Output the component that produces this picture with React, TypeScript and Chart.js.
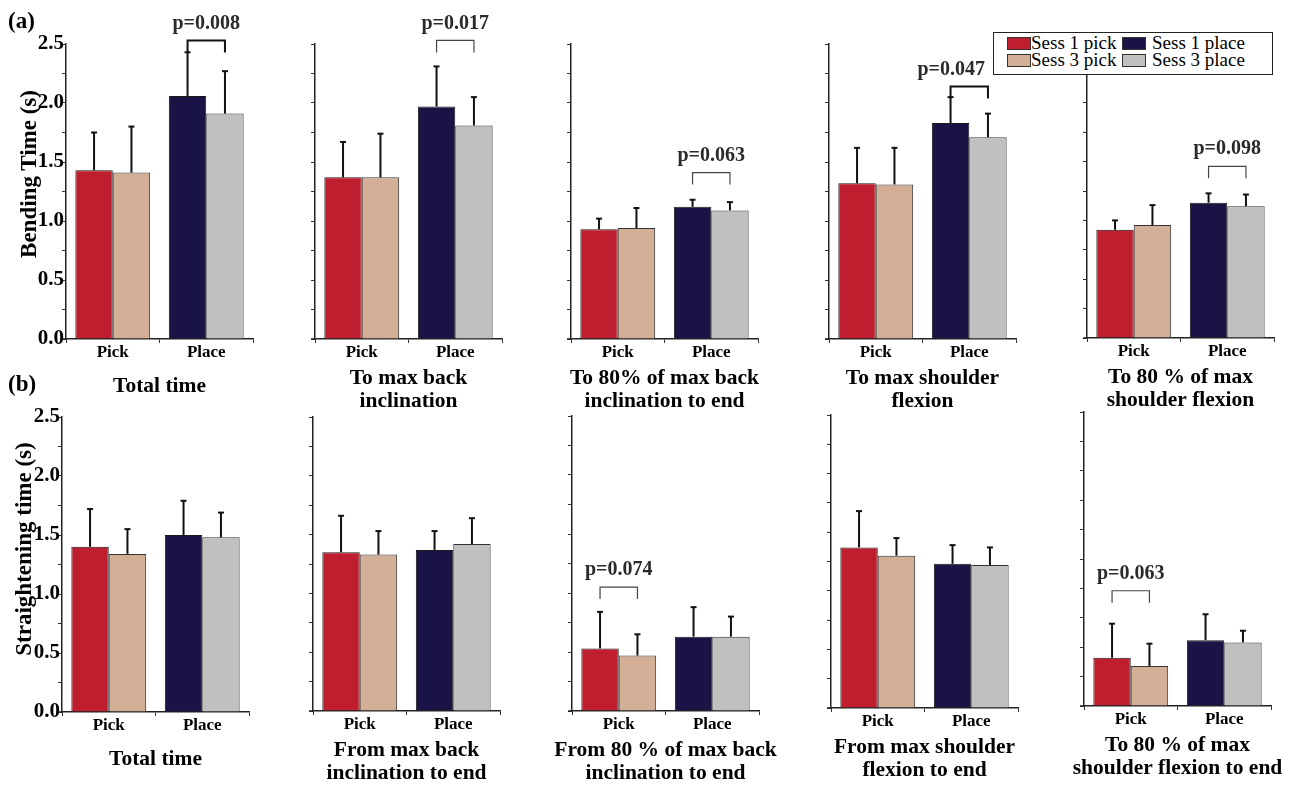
import React, { useEffect, useRef } from "react";
import { Chart, registerables } from "chart.js";

Chart.register(...registerables);

const FONT = "'Liberation Serif', 'Times New Roman', serif";

// ---------- data ----------
const categories = ["Pick", "Place"];
const seriesLabels = ["Sess 1 pick", "Sess 1 place", "Sess 3 pick", "Sess 3 place"];

const bendingTitles = [
  ["Total time"],
  ["To max back", "inclination"],
  ["To 80% of max back", "inclination to end"],
  ["To max shoulder", "flexion"],
  ["To 80 % of max", "shoulder flexion"],
];
const straighteningTitles = [
  ["Total time"],
  ["From max back", "inclination to end"],
  ["From 80 % of max back", "inclination to end"],
  ["From max shoulder", "flexion to end"],
  ["To 80 % of max", "shoulder flexion to end"],
];

// [pick, place] per panel
const bendSess1Mean = [[1.43, 2.06], [1.37, 1.97], [0.93, 1.12], [1.32, 1.83], [0.92, 1.15]];
const bendSess3Mean = [[1.41, 1.91], [1.37, 1.81], [0.94, 1.09], [1.31, 1.71], [0.96, 1.12]];
const bendSess1SD = [[0.32, 0.37], [0.30, 0.34], [0.09, 0.06], [0.30, 0.22], [0.08, 0.08]];
const bendSess3SD = [[0.39, 0.36], [0.37, 0.24], [0.17, 0.07], [0.31, 0.20], [0.17, 0.10]];

const straightSess1Mean = [[1.40, 1.50], [1.35, 1.37], [0.53, 0.63], [1.37, 1.23], [0.41, 0.56]];
const straightSess3Mean = [[1.34, 1.48], [1.33, 1.42], [0.47, 0.63], [1.30, 1.22], [0.34, 0.54]];
const straightSess1SD = [[0.32, 0.29], [0.31, 0.16], [0.31, 0.25], [0.31, 0.16], [0.29, 0.22]];
const straightSess3SD = [[0.21, 0.21], [0.20, 0.22], [0.18, 0.17], [0.15, 0.15], [0.19, 0.10]];

// significance brackets: group index (0 pick, 1 place), bracket level, label, significant?
const bendSig = [
  { group: 1, level: 2.53, p: "p=0.008", strong: true, shift: 0 },
  { group: 1, level: 2.53, p: "p=0.017", strong: false, shift: 0 },
  { group: 1, level: 1.41, p: "p=0.063", strong: false, shift: 0 },
  { group: 1, level: 2.14, p: "p=0.047", strong: true, shift: -18 },
  { group: 1, level: 1.46, p: "p=0.098", strong: false, shift: 0 },
];
const straightSig = [
  null,
  null,
  { group: 0, level: 1.05, p: "p=0.074", strong: false, shift: 0 },
  null,
  { group: 0, level: 0.98, p: "p=0.063", strong: false, shift: 0 },
];

const yTicksMax = 2.5;
const yTickStep = 0.25;

const RED = "#BE1E2D";
const TAN = "#D4AF97";
const NAVY = "#1A1446";
const GRAY = "#C0C0C0";

// ---------- layout (positions only) ----------
const YW = 60;
const RP = 25;
const PLOT_W = 187;
const CANVAS_W = YW + PLOT_W + RP;

const topAxisX = [66, 315, 571, 829, 1087];
const topPlotTop = [44, 44, 44, 44, 44];
const topPlotBottom = [339, 339, 339, 339, 338];
const botAxisX = [62, 313, 572, 831, 1084];
const botPlotTop = [417, 417, 416, 415, 412];
const botPlotBottom = [712, 711, 711, 708, 706];

const overlayPlugin = {
  id: "overlay",
  afterDatasetsDraw(chart: any, _args: any, opts: any) {
    const { ctx, chartArea } = chart;
    const y = chart.scales.y;
    ctx.save();
    // extend x axis line slightly left of y axis
    ctx.strokeStyle = "#222";
    ctx.lineWidth = 1.5;
    ctx.beginPath();
    ctx.moveTo(chartArea.left - 4, chartArea.bottom);
    ctx.lineTo(chartArea.left, chartArea.bottom);
    ctx.stroke();
    // error bars
    ctx.strokeStyle = "#111";
    ctx.lineWidth = 2;
    for (let d = 0; d < 2; d++) {
      const meta = chart.getDatasetMeta(d);
      const sd = opts.sd[d];
      meta.data.forEach((el: any, j: number) => {
        const v = chart.data.datasets[d].data[j];
        const yTop = y.getPixelForValue(v + sd[j]);
        ctx.beginPath();
        ctx.moveTo(el.x, el.y);
        ctx.lineTo(el.x, yTop);
        ctx.stroke();
        ctx.beginPath();
        ctx.moveTo(el.x - 3, yTop);
        ctx.lineTo(el.x + 3, yTop);
        ctx.stroke();
      });
    }
    // significance bracket
    const sig = opts.sig;
    if (sig) {
      const x1 = chart.getDatasetMeta(0).data[sig.group].x;
      const x2 = chart.getDatasetMeta(1).data[sig.group].x;
      const yb = y.getPixelForValue(sig.level);
      ctx.strokeStyle = sig.strong ? "#111" : "#444";
      ctx.lineWidth = sig.strong ? 2 : 1.2;
      ctx.beginPath();
      ctx.moveTo(x1, yb + 12);
      ctx.lineTo(x1, yb);
      ctx.lineTo(x2, yb);
      ctx.lineTo(x2, yb + 12);
      ctx.stroke();
      ctx.fillStyle = "#2a2a2a";
      ctx.font = `bold 20px ${FONT}`;
      ctx.textAlign = "center";
      ctx.textBaseline = "middle";
      ctx.fillText(sig.p, (x1 + x2) / 2 + sig.shift, yb - 17);
    }
    // panel title
    const lines: string[] = opts.title;
    ctx.fillStyle = "#000";
    ctx.font = `bold 21.5px ${FONT}`;
    ctx.textAlign = "center";
    ctx.textBaseline = "middle";
    const cx = (chartArea.left + chartArea.right) / 2;
    if (lines.length === 1) {
      ctx.fillText(lines[0], cx, chartArea.bottom + 47);
    } else {
      lines.forEach((t, i) => ctx.fillText(t, cx, chartArea.bottom + 39 + i * 23.5));
    }
    ctx.restore();
  },
};

type PanelProps = {
  left: number;
  top: number;
  height: number;
  padTop: number;
  xh: number;
  s1: number[];
  s3: number[];
  sd1: number[];
  sd3: number[];
  sig: any;
  title: string[];
  showLabels: boolean;
};

function Panel(p: PanelProps) {
  const ref = useRef<HTMLCanvasElement | null>(null);
  useEffect(() => {
    if (!ref.current) return;
    const chart = new Chart(ref.current, {
      type: "bar",
      data: {
        labels: categories,
        datasets: [
          {
            label: "Sess 1",
            data: p.s1,
            backgroundColor: [RED, NAVY],
            borderColor: "#1a1a1a",
            borderWidth: 1,
            borderSkipped: "bottom",
            barPercentage: 1,
            categoryPercentage: 0.8,
          },
          {
            label: "Sess 3",
            data: p.s3,
            backgroundColor: [TAN, GRAY],
            borderColor: "#333",
            borderWidth: 1,
            borderSkipped: "bottom",
            barPercentage: 1,
            categoryPercentage: 0.8,
          },
        ],
      },
      options: {
        responsive: false,
        animation: false,
        devicePixelRatio: 1,
        layout: { padding: { top: p.padTop, right: RP, left: 0, bottom: 0 }, autoPadding: false },
        plugins: {
          legend: { display: false },
          tooltip: { enabled: false },
          overlay: { sd: [p.sd1, p.sd3], sig: p.sig, title: p.title },
        } as any,
        scales: {
          x: {
            grid: { drawOnChartArea: false, drawTicks: true, tickLength: 4, color: "#333" },
            border: { display: true, color: "#222", width: 1.5 },
            ticks: { color: "#000", font: { family: FONT, size: 17, weight: "bold" }, padding: -1 },
            afterFit: (s: any) => {
              s.height = p.xh;
            },
          },
          y: {
            min: 0,
            max: yTicksMax,
            grid: { drawOnChartArea: false, drawTicks: true, tickLength: 4, color: "#333" },
            border: { display: true, color: "#222", width: 1.5 },
            ticks: {
              stepSize: yTickStep,
              color: "#000",
              padding: -2,
              font: { family: FONT, size: 21, weight: "bold" },
              callback: (v: any) => {
                if (!p.showLabels) return "";
                const n = Number(v);
                return Math.abs(n * 2 - Math.round(n * 2)) < 1e-6 ? n.toFixed(1) : "";
              },
            },
            afterFit: (s: any) => {
              s.width = YW;
            },
          },
        },
      },
      plugins: [overlayPlugin as any],
    });
    return () => chart.destroy();
  }, []);
  return (
    <canvas
      ref={ref}
      width={CANVAS_W}
      height={p.height}
      style={{ position: "absolute", left: p.left, top: p.top, width: CANVAS_W, height: p.height }}
    />
  );
}

const legendSwatches = [RED, NAVY, TAN, GRAY];

export default function App() {
  const panels: PanelProps[] = [];
  for (let i = 0; i < 5; i++) {
    const top = 0;
    const height = 420;
    panels.push({
      left: topAxisX[i] - YW,
      top,
      height,
      padTop: topPlotTop[i] - top,
      xh: top + height - topPlotBottom[i],
      s1: bendSess1Mean[i],
      s3: bendSess3Mean[i],
      sd1: bendSess1SD[i],
      sd3: bendSess3SD[i],
      sig: bendSig[i],
      title: bendingTitles[i],
      showLabels: i === 0,
    });
  }
  for (let i = 0; i < 5; i++) {
    const top = 380;
    const height = 405;
    panels.push({
      left: botAxisX[i] - YW,
      top,
      height,
      padTop: botPlotTop[i] - top,
      xh: top + height - botPlotBottom[i],
      s1: straightSess1Mean[i],
      s3: straightSess3Mean[i],
      sd1: straightSess1SD[i],
      sd3: straightSess3SD[i],
      sig: straightSig[i],
      title: straighteningTitles[i],
      showLabels: i === 0,
    });
  }

  const textBase: React.CSSProperties = {
    position: "absolute",
    fontFamily: FONT,
    whiteSpace: "nowrap",
    lineHeight: 1,
  };

  const legendPos = [
    { sx: 1007, tx: 1031, cy: 43 },
    { sx: 1122, tx: 1152, cy: 43 },
    { sx: 1007, tx: 1031, cy: 60 },
    { sx: 1122, tx: 1152, cy: 60 },
  ];

  return (
    <div style={{ position: "absolute", left: 0, top: 0, width: 1293, height: 785, background: "#fff", overflow: "hidden" }}>
      {panels.map((p, i) => (
        <Panel key={i} {...p} />
      ))}
      <div style={{ ...textBase, left: 8, top: 9, fontSize: 23, fontWeight: "bold" }}>(a)</div>
      <div style={{ ...textBase, left: 8, top: 372, fontSize: 23, fontWeight: "bold" }}>(b)</div>
      <div
        style={{
          ...textBase,
          left: 28,
          top: 174,
          fontSize: 23,
          fontWeight: "bold",
          transform: "translate(-50%, -50%) rotate(-90deg)",
        }}
      >
        Bending Time (s)
      </div>
      <div
        style={{
          ...textBase,
          left: 23,
          top: 549,
          fontSize: 23,
          fontWeight: "bold",
          transform: "translate(-50%, -50%) rotate(-90deg)",
        }}
      >
        Straightening time (s)
      </div>
      <div
        style={{
          position: "absolute",
          left: 993,
          top: 32,
          width: 278,
          height: 41,
          border: "1px solid #222",
          background: "#fff",
        }}
      />
      {seriesLabels.map((lab, i) => {
        const lp = legendPos[i];
        return (
          <React.Fragment key={lab}>
            <div
              style={{
                position: "absolute",
                left: lp.sx,
                top: lp.cy - 6,
                width: 22,
                height: 11,
                background: legendSwatches[i],
                border: "1px solid #333",
              }}
            />
            <div style={{ ...textBase, left: lp.tx, top: lp.cy - 10, fontSize: 19 }}>{lab}</div>
          </React.Fragment>
        );
      })}
    </div>
  );
}
